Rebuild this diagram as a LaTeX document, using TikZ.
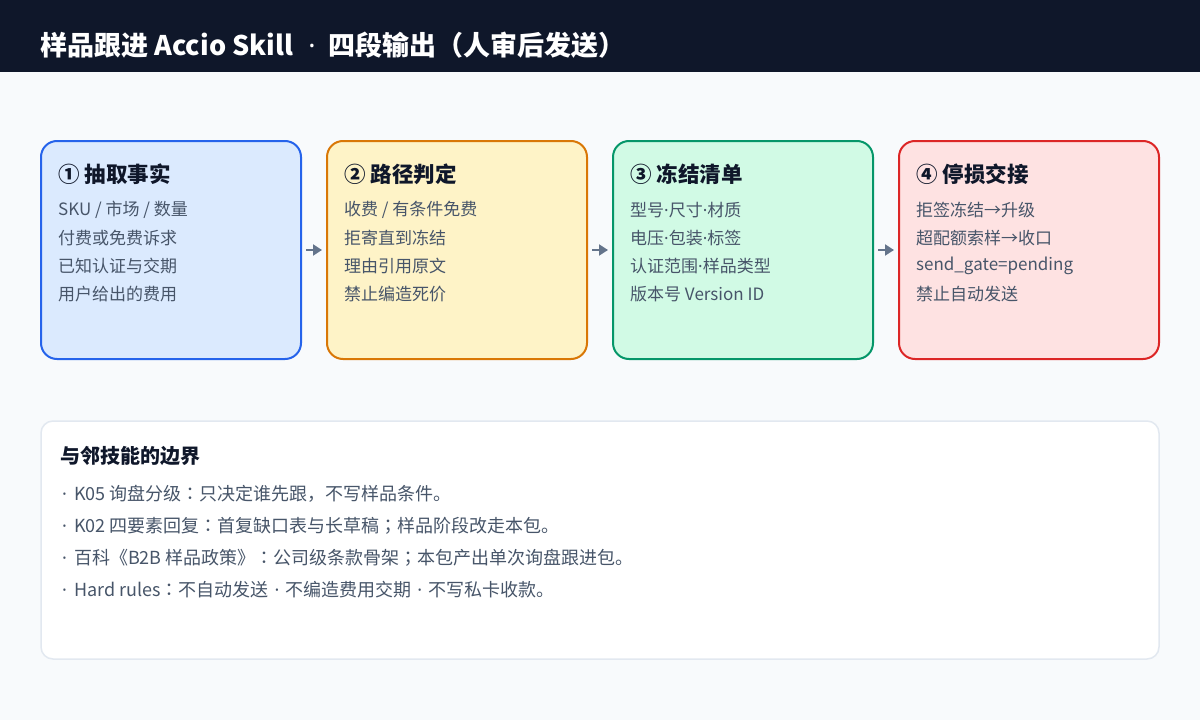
\documentclass[tikz,border=0pt]{standalone}
\usepackage{fontspec}
\setmainfont{Noto Sans CJK SC}
\newfontfamily\dotfont{Noto Sans}
\newfontfamily\jpfont{Noto Sans CJK JP}
\newcommand{\mdot}{{\dotfont ·}}
\newcommand{\sepdot}{\hspace{6pt}{\dotfont ·}\hspace{6pt}}
\newcommand{\leaddot}{\hspace{2pt}{\dotfont ·}\hspace{7pt}}
\newcommand{\jcolon}{{\jpfont ：}}
\newcommand{\jsemi}{{\jpfont ；}}
\usetikzlibrary{positioning}
\usetikzlibrary{arrows.meta}
\usetikzlibrary{calc}
\definecolor{headbg}{HTML}{0F172A}
\definecolor{pagebg}{HTML}{F8FAFC}
\definecolor{inktitle}{HTML}{0F172A}
\definecolor{inkbody}{HTML}{475569}
\definecolor{arrowgray}{HTML}{64748B}
\definecolor{edgegray}{HTML}{E2E8F0}
\definecolor{blueline}{HTML}{2563EB}\definecolor{bluefill}{HTML}{DBEAFE}
\definecolor{orangeline}{HTML}{D97706}\definecolor{orangefill}{HTML}{FEF3C7}
\definecolor{greenline}{HTML}{059669}\definecolor{greenfill}{HTML}{D1FAE5}
\definecolor{redline}{HTML}{DC2626}\definecolor{redfill}{HTML}{FEE2E2}
\tikzstyle{stagecard}=[rectangle,rounded corners=16pt,line width=2pt,minimum width=260pt,minimum height=218pt,inner sep=0pt]
\tikzstyle{cardtitle}=[anchor=west,inner sep=0pt,text=inktitle,font=\fontsize{21.5}{25}\selectfont\bfseries]
\tikzstyle{cardline}=[anchor=west,inner sep=0pt,text=inkbody,font=\fontsize{17}{20}\selectfont]
\tikzstyle{boundline}=[anchor=west,inner sep=0pt,text=inkbody,font=\fontsize{18}{22}\selectfont]
\tikzstyle{flow}=[-{Triangle[length=9pt,width=11pt]},line width=2pt,arrowgray,shorten >=4pt,shorten <=4pt]

\begin{document}
\begin{tikzpicture}[x=1pt,y=-1pt]

   \useasboundingbox (0,0) rectangle (1200,720);
   \fill[pagebg] (0,0) rectangle (1200,720);
   \fill[headbg] (0,0) rectangle (1200,72);
   \node[anchor=west,inner sep=0pt,text=white,font=\fontsize{27}{31}\selectfont\bfseries] (title) at (40,45) {样品跟进 Accio Skill\hspace{15pt}\mdot\hspace{13pt}四段输出（人审后发送）};

    % the four stages
    \foreach \pos/\name/\col in {{(171,250)/s1/blue}, {(457,250)/s2/orange}, {(743,250)/s3/green}, {(1029,250)/s4/red}}
        \node[stagecard,draw=\col line,fill=\col fill] (\name) at \pos {};

    \foreach \name/\head/\la/\lb/\lc/\ld in {
        s1/① 抽取事实/{SKU / 市场 / 数量}/付费或免费诉求/已知认证与交期/用户给出的费用,
        s2/② 路径判定/{收费 / 有条件免费}/拒寄直到冻结/理由引用原文/禁止编造死价,
        s3/③ 冻结清单/型号\mdot 尺寸\mdot 材质/电压\mdot 包装\mdot 标签/认证范围\mdot 样品类型/版本号 Version ID,
        s4/④ 停损交接/拒签冻结→升级/超配额索样→收口/send\_gate=pending/禁止自动发送}
    {
        \node[cardtitle] (\name h) at ($(\name.west)+(18,-76)$) {\head};
        \node[cardline] (\name a) at ($(\name.west)+(18,-40)$) {\la};
        \node[cardline] (\name b) at ($(\name.west)+(18,-12)$) {\lb};
        \node[cardline] (\name c) at ($(\name.west)+(18,16)$) {\lc};
        \node[cardline] (\name d) at ($(\name.west)+(18,44)$) {\ld};
    }

    \foreach \source/\dest in {s1/s2, s2/s3, s3/s4}
        \draw[flow] (\source) -- (\dest);

    % boundary box
    \node[rectangle,rounded corners=12pt,draw=edgegray,line width=1.5pt,fill=white,minimum width=1118pt,minimum height=238pt] (bound) at (600,540) {};
    \node[anchor=west,inner sep=0pt,text=inktitle,font=\fontsize{20}{24}\selectfont\bfseries] (boundh) at (60,456) {与邻技能的边界};
    \foreach \y/\name/\txt in {494/b1/\leaddot K05 询盘分级\jcolon 只决定谁先跟，不写样品条件。, 526/b2/\leaddot K02 四要素回复\jcolon 首复缺口表与长草稿\jsemi 样品阶段改走本包。, 558/b3/\leaddot 百科《B2B 样品政策》\jcolon 公司级条款骨架\jsemi 本包产出单次询盘跟进包。, 590/b4/\leaddot Hard rules\jcolon 不自动发送\sepdot 不编造费用交期\sepdot 不写私卡收款。}
        \node[boundline] (\name) at (60,\y) {\txt};

\end{tikzpicture}
\end{document}
